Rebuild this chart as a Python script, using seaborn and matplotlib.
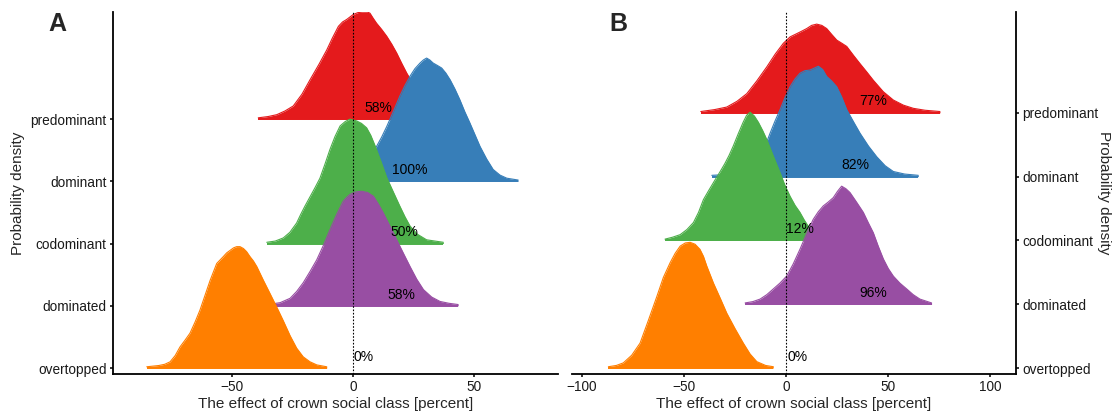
import numpy as np
import pandas as pd
import matplotlib
matplotlib.use("Agg")
import matplotlib.pyplot as plt
import seaborn as sns

# Crown social classes, bottom to top
classes = ["overtopped", "dominated", "codominant", "dominant", "predominant"]
colors = ["#FF7F00", "#984EA3", "#4DAF4A", "#377EB8", "#E41A1C"]

# ---- Panel A: posterior densities (x = effect in percent, h = scaled density) ----
a_over_x = [-84.9, -80.0, -77.5, -75.3, -73.2, -71.2, -69.1, -67.1, -65.0, -63.0, -60.9,
            -58.8, -56.1, -53.4, -52.0, -50.6, -49.2, -47.9, -46.5, -45.1, -43.8, -42.4,
            -41.0, -39.6, -36.9, -34.2, -31.4, -28.7, -25.9, -23.2, -20.5, -17.7, -14.9, -10.8]
a_over_h = [0.02, 0.04, 0.06, 0.10, 0.20, 0.34, 0.45, 0.56, 0.74, 0.93, 1.17,
            1.41, 1.68, 1.79, 1.85, 1.89, 1.93, 1.95, 1.95, 1.92, 1.87, 1.79,
            1.72, 1.63, 1.41, 1.20, 0.98, 0.76, 0.52, 0.32, 0.18, 0.10, 0.05, 0.02]

a_domd_x = [-35.0, -30.0, -25.9, -23.2, -20.5, -17.7, -14.9, -12.2, -9.5, -6.8, -4.0, -2.6,
            -1.2, 1.2, 3.6, 6.0, 8.4, 10.5, 12.5, 15.2, 18.0, 20.8, 23.5, 26.2, 29.0,
            32.4, 35.8, 39.5, 43.3]
a_domd_h = [0.02, 0.05, 0.12, 0.23, 0.37, 0.55, 0.74, 0.97, 1.22, 1.46, 1.68, 1.74,
            1.79, 1.83, 1.84, 1.82, 1.76, 1.63, 1.49, 1.28, 1.06, 0.84, 0.63, 0.43, 0.26,
            0.14, 0.07, 0.04, 0.02]

a_codom_x = [-35.5, -32.0, -28.7, -26.0, -23.2, -21.5, -19.8, -17.7, -15.6, -13.6, -11.5,
             -9.5, -7.4, -5.3, -3.2, -1.2, 1.5, 3.5, 5.6, 7.3, 9.1, 11.5, 13.9, 16.0,
             18.0, 19.3, 21.4, 23.5, 26.5, 30.3, 37.2]
a_codom_h = [0.02, 0.04, 0.09, 0.18, 0.33, 0.47, 0.60, 0.75, 0.90, 1.05, 1.28,
             1.51, 1.72, 1.89, 1.96, 2.00, 1.97, 1.93, 1.86, 1.74, 1.57, 1.32, 1.06, 0.88,
             0.71, 0.60, 0.43, 0.28, 0.15, 0.06, 0.02]

a_dom_x = [1.0, 4.0, 7.0, 9.7, 11.8, 13.9, 16.6, 19.3, 21.4, 23.5, 25.5, 27.6, 29.0, 30.3,
           31.6, 33.0, 34.8, 36.5, 38.2, 40.0, 42.0, 44.0, 46.0, 48.1, 50.2, 52.3, 55.0,
           57.7, 60.5, 63.3, 68.0]
a_dom_h = [0.02, 0.15, 0.35, 0.56, 0.71, 0.88, 1.12, 1.37, 1.54, 1.69, 1.81, 1.90, 1.95, 1.98,
           1.95, 1.90, 1.86, 1.82, 1.74, 1.63, 1.48, 1.31, 1.12, 0.94, 0.75, 0.56, 0.36,
           0.19, 0.10, 0.05, 0.02]

a_pred_x = [-39.0, -35.0, -31.4, -28.0, -24.6, -21.0, -17.7, -14.0, -10.8, -8.5, -6.0, -4.3,
            -2.6, 0.1, 2.0, 4.2, 6.0, 7.0, 8.3, 9.7, 11.8, 13.9, 16.0, 18.0, 20.0, 22.1,
            26.0, 30.0, 35.0, 40.0, 46.0]
a_pred_h = [0.02, 0.04, 0.07, 0.13, 0.21, 0.40, 0.63, 0.88, 1.11, 1.30, 1.49, 1.56,
            1.60, 1.68, 1.71, 1.72, 1.72, 1.70, 1.62, 1.54, 1.44, 1.33, 1.20, 1.06, 0.90, 0.74,
            0.48, 0.28, 0.12, 0.04, 0.02]

a_labels = ["0%", "58%", "50%", "100%", "58%"]
a_label_x = [4.5, 20.0, 21.0, 23.5, 10.3]

# ---- Panel B ----
b_over_x = [-86.9, -83.0, -79.6, -75.5, -71.4, -67.3, -63.2, -60.0, -56.7, -54.2, -51.8,
            -49.3, -46.9, -44.5, -42.1, -40.4, -38.8, -35.5, -32.0, -29.0, -25.0, -20.9,
            -17.6, -14.3, -10.0, -6.2]
b_over_h = [0.02, 0.04, 0.08, 0.20, 0.39, 0.75, 1.12, 1.42, 1.65, 1.80, 1.91,
            1.96, 1.97, 1.94, 1.86, 1.75, 1.60, 1.33, 1.08, 0.86, 0.62, 0.39,
            0.22, 0.10, 0.04, 0.02]

b_domd_x = [-20.0, -16.3, -12.7, -9.4, -6.2, -3.0, 0.3, 3.5, 6.8, 10.0, 13.3, 15.8, 18.2,
            20.6, 23.1, 25.2, 27.2, 29.3, 31.3, 34.5, 37.8, 40.2, 42.7, 45.1, 47.6, 50.0,
            52.5, 55.7, 59.0, 62.2, 65.5, 71.2]
b_domd_h = [0.02, 0.04, 0.08, 0.15, 0.24, 0.33, 0.44, 0.63, 0.86, 1.10, 1.33, 1.45, 1.54,
            1.60, 1.67, 1.77, 1.85, 1.81, 1.75, 1.60, 1.44, 1.28, 1.12, 0.91, 0.71, 0.56,
            0.44, 0.33, 0.24, 0.15, 0.08, 0.02]

b_codom_x = [-59.2, -55.5, -51.8, -48.5, -45.3, -42.8, -40.4, -37.5, -34.5, -32.2, -30.0,
             -27.9, -25.8, -23.4, -21.0, -19.3, -17.6, -15.5, -13.5, -11.4, -9.4, -6.2,
             -2.9, -0.5, 2.0, 4.4, 6.8, 8.9, 10.9, 13.0, 15.0, 20.0]
b_codom_h = [0.02, 0.05, 0.09, 0.17, 0.28, 0.44, 0.64, 0.80, 0.96, 1.08, 1.20,
             1.33, 1.48, 1.67, 1.85, 1.96, 2.01, 1.95, 1.85, 1.72, 1.58, 1.32,
             1.06, 0.86, 0.69, 0.55, 0.44, 0.32, 0.22, 0.14, 0.08, 0.02]

b_dom_x = [-36.3, -25.0, -18.0, -12.7, -10.2, -7.8, -5.4, -2.9, -0.5, 2.0, 4.4, 6.8, 9.2,
           11.7, 13.8, 15.8, 17.9, 19.9, 22.3, 24.8, 27.2, 29.7, 33.0, 36.2, 40.3, 44.4,
           48.5, 52.5, 58.0, 64.7]
b_dom_h = [0.02, 0.04, 0.15, 0.31, 0.48, 0.68, 0.87, 1.05, 1.24, 1.41, 1.53, 1.62, 1.66,
           1.67, 1.70, 1.73, 1.68, 1.57, 1.50, 1.41, 1.25, 1.05, 0.86, 0.68, 0.48, 0.31,
           0.17, 0.08, 0.04, 0.02]

b_pred_x = [-41.7, -35.0, -29.0, -24.0, -19.2, -14.3, -9.4, -5.3, -1.3, 2.0, 5.2, 7.7, 10.1,
            12.5, 15.0, 17.5, 19.9, 22.3, 24.8, 27.3, 29.7, 33.0, 36.2, 39.5, 42.7, 47.6,
            52.5, 57.4, 62.3, 68.0, 75.3]
b_pred_h = [0.02, 0.05, 0.09, 0.18, 0.30, 0.50, 0.72, 0.92, 1.09, 1.19, 1.24, 1.28, 1.32,
            1.37, 1.39, 1.37, 1.32, 1.23, 1.14, 1.09, 1.04, 0.90, 0.77, 0.64, 0.51, 0.33,
            0.20, 0.12, 0.07, 0.04, 0.02]

b_labels = ["0%", "96%", "12%", "82%", "77%"]
b_label_x = [5.4, 42.5, 6.8, 33.7, 42.5]

x_label = "The effect of crown social class [percent]"
y_label = "Probability density"

sns.set_theme(style="ticks")
plt.rcParams["font.family"] = ["Liberation Sans", "DejaVu Sans"]
plt.rcParams["axes.unicode_minus"] = True

fig = plt.figure(figsize=(11.16, 4.15), dpi=100)
axA = fig.add_axes([113 / 1116, 1 - 374 / 415, 445 / 1116, 362 / 415])
axB = fig.add_axes([572 / 1116, 1 - 374 / 415, 444 / 1116, 362 / 415])


def draw_ridges(ax, curves, labels, label_x):
    # top ridge first so each lower ridge overlaps the one above it
    for k in range(len(classes) - 1, -1, -1):
        xs, hs = curves[k]
        xs = np.asarray(xs, float)
        top = k + np.asarray(hs, float)
        z = 10 + (len(classes) - k) * 2
        ax.fill_between(xs, k, top, color=colors[k], lw=0, zorder=z)
        df = pd.DataFrame({"x": xs, "y": top})
        sns.lineplot(data=df, x="x", y="y", ax=ax, color=colors[k], lw=0.8,
                     sort=False, zorder=z + 0.5)
        ax.plot([xs[0], xs[-1]], [k, k], color=colors[k], lw=1.4,
                solid_capstyle="butt", zorder=z + 0.5)
    for k, (s, lx) in enumerate(zip(labels, label_x)):
        ax.text(lx, k + 0.18, s, ha="center", va="center", fontsize=10,
                color="black", zorder=60)
    ax.axvline(0, color="black", lw=0.8, ls=(0, (1.5, 1.5)), zorder=50)
    ax.set_yticks(range(len(classes)))
    ax.set_yticklabels(classes)
    ax.set_xlabel(x_label, fontsize=11, labelpad=2)
    ax.tick_params(axis="both", labelsize=9.8, length=2.5, width=1.1,
                   color="black", labelcolor="#1a1a1a", pad=2)
    for sp in ax.spines.values():
        sp.set_linewidth(1.3)
        sp.set_color("black")
    ax.grid(False)


curvesA = [(a_over_x, a_over_h), (a_domd_x, a_domd_h), (a_codom_x, a_codom_h),
           (a_dom_x, a_dom_h), (a_pred_x, a_pred_h)]
curvesB = [(b_over_x, b_over_h), (b_domd_x, b_domd_h), (b_codom_x, b_codom_h),
           (b_dom_x, b_dom_h), (b_pred_x, b_pred_h)]

draw_ridges(axA, curvesA, a_labels, a_label_x)
draw_ridges(axB, curvesB, b_labels, b_label_x)

axA.set_xlim(-98.8, 84.4)
axA.set_ylim(-0.096, 5.72)
axA.set_xticks([-50, 0, 50])
axA.spines["top"].set_visible(False)
axA.spines["right"].set_visible(False)
axA.set_ylabel(y_label, fontsize=11, rotation=90, ha="center", va="center")
axA.yaxis.set_label_coords(-0.213, 0.5)

axB.set_xlim(-104.7, 112.5)
axB.set_ylim(-0.094, 5.58)
axB.set_xticks([-100, -50, 0, 50, 100])
axB.spines["top"].set_visible(False)
axB.spines["left"].set_visible(False)
axB.yaxis.tick_right()
axB.yaxis.set_label_position("right")
axB.set_ylabel(y_label, fontsize=11, rotation=270, ha="center", va="center")
axB.yaxis.set_label_coords(1.198, 0.5)

fig.text(57 / 1116, 1 - 24 / 415, "A", fontsize=18, fontweight="bold",
         ha="center", va="center")
fig.text(618 / 1116, 1 - 24 / 415, "B", fontsize=18, fontweight="bold",
         ha="center", va="center")

fig.savefig("out.png", dpi=100)
